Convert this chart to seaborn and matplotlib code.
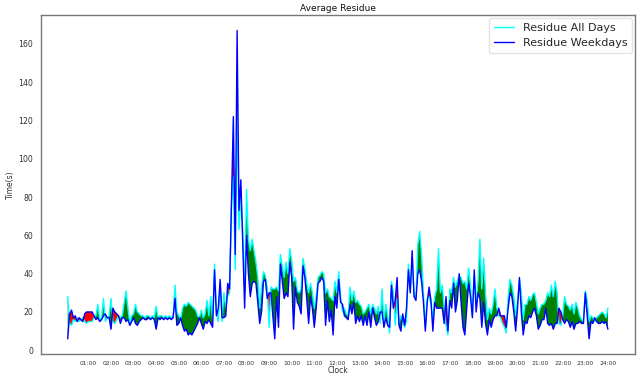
import numpy as np
import pandas as pd
import seaborn as sns
import matplotlib.pyplot as plt

# 5-minute slots from 00:05 to 24:00, one row per hour
residue_all_days = [
    28, 14, 13, 16, 15, 17, 15, 16, 17, 15, 14, 15,
    15, 15, 17, 18, 24, 16, 17, 27, 15, 17, 18, 27,
    15, 14, 16, 18, 17, 18, 25, 31, 22, 14, 18, 19,
    24, 20, 19, 18, 18, 17, 18, 18, 17, 18, 17, 23,
    17, 18, 18, 17, 18, 17, 18, 17, 18, 34, 20, 18,
    16, 22, 24, 23, 25, 24, 23, 22, 21, 18, 17, 21,
    17, 19, 26, 18, 28, 16, 45, 20, 15, 35, 15, 30,
    22, 28, 30, 75, 91, 42, 125, 63, 80, 62, 30, 84,
    58, 52, 58, 52, 46, 38, 22, 33, 41, 39, 33, 12,
    33, 32, 32, 33, 31, 50, 44, 38, 46, 40, 53, 47,
    36, 38, 31, 30, 32, 48, 43, 35, 30, 35, 30, 22,
    28, 38, 39, 41, 40, 30, 32, 28, 27, 26, 36, 30,
    41, 28, 20, 22, 19, 18, 33, 26, 31, 25, 26, 24,
    23, 19, 20, 22, 24, 19, 24, 22, 19, 23, 14, 32,
    15, 24, 18, 9, 36, 30, 13, 27, 14, 18, 15, 12,
    15, 45, 32, 46, 30, 27, 55, 62, 50, 30, 12, 27,
    28, 24, 16, 28, 32, 53, 30, 34, 22, 13, 8, 32,
    30, 38, 33, 36, 39, 38, 35, 36, 32, 43, 34, 18,
    39, 25, 36, 58, 32, 48, 30, 16, 22, 19, 24, 32,
    22, 18, 17, 14, 12, 9, 28, 37, 34, 28, 18, 26,
    37, 30, 16, 24, 24, 28, 26, 29, 30, 25, 19, 22,
    24, 24, 26, 30, 28, 34, 28, 36, 30, 14, 13, 18,
    28, 24, 23, 21, 24, 19, 25, 22, 18, 16, 15, 31,
    26, 15, 18, 17, 15, 17, 18, 19, 20, 19, 17, 22,
]

residue_weekdays = [
    6, 19, 21, 17, 18, 15, 17, 16, 15, 19, 20, 20,
    20, 20, 18, 16, 17, 15, 16, 18, 19, 17, 17, 11,
    22, 20, 19, 18, 14, 17, 17, 15, 16, 13, 15, 17,
    14, 13, 15, 16, 17, 16, 16, 17, 16, 17, 16, 11,
    17, 16, 17, 16, 17, 16, 17, 16, 17, 27, 13, 14,
    17, 13, 10, 11, 8, 9, 8, 10, 12, 14, 17, 14,
    11, 15, 14, 16, 14, 12, 42, 18, 22, 37, 17, 17,
    18, 35, 32, 78, 122, 50, 167, 73, 89, 55, 22, 60,
    40, 28, 35, 36, 35, 25, 14, 20, 36, 37, 27, 30,
    30, 18, 6, 28, 12, 45, 36, 27, 30, 28, 46, 38,
    11, 33, 25, 23, 19, 44, 38, 27, 14, 28, 22, 12,
    22, 35, 36, 38, 36, 13, 26, 15, 21, 8, 28, 22,
    37, 25, 24, 18, 17, 16, 24, 19, 25, 14, 18, 15,
    18, 13, 18, 13, 20, 12, 22, 17, 13, 15, 20, 20,
    12, 17, 13, 12, 34, 22, 26, 38, 13, 10, 19, 13,
    22, 42, 30, 52, 28, 26, 40, 42, 36, 25, 10, 25,
    33, 26, 10, 25, 22, 22, 22, 22, 14, 28, 10, 26,
    22, 35, 20, 26, 40, 25, 12, 8, 22, 35, 28, 17,
    42, 20, 30, 27, 12, 25, 14, 8, 16, 12, 16, 18,
    18, 22, 18, 18, 18, 12, 22, 30, 28, 20, 10, 22,
    38, 20, 8, 15, 14, 18, 17, 20, 22, 18, 11, 13,
    16, 16, 22, 14, 13, 14, 11, 14, 14, 22, 20, 16,
    14, 16, 15, 12, 15, 11, 14, 14, 15, 14, 14, 30,
    18, 6, 15, 14, 17, 15, 14, 14, 15, 14, 15, 11,
]

hour_labels = ["%02d:00" % h for h in range(1, 25)]

minutes = np.arange(5, 1441, 5)
df = pd.DataFrame({"Clock": minutes,
                   "all": residue_all_days,
                   "week": residue_weekdays})

sns.set_style("white")
plt.rcParams['font.family'] = ['DejaVu Sans']

fig = plt.figure(figsize=(6.41, 3.76), dpi=100)
ax = fig.add_axes([0.0635, 0.058, 0.927, 0.902])

a = df["all"].values
w = df["week"].values

# fill the gap between the two curves, then draw both lines over it
ax.fill_between(df["Clock"], a, w, where=a >= w, interpolate=True,
                color="green", lw=0, zorder=1)
ax.fill_between(df["Clock"], a, w, where=w > a, interpolate=True,
                color="red", lw=0, zorder=1)
sns.lineplot(data=df, x="Clock", y="all", color="cyan", lw=1.0,
             label="Residue All Days", ax=ax, zorder=2)
sns.lineplot(data=df, x="Clock", y="week", color="blue", lw=1.0,
             label="Residue Weekdays", ax=ax, zorder=3)

ax.set_xticks(np.arange(60, 1441, 60))
ax.set_xticklabels(hour_labels)
ax.tick_params(axis="x", labelsize=4.3, colors="#555555", length=3, pad=2)
ax.tick_params(axis="y", labelsize=5.6, colors="#555555", length=3, pad=2.5)
for lab in ax.get_xticklabels() + ax.get_yticklabels():
    lab.set_color("#333333")
for sp in ax.spines.values():
    sp.set_color("#777777")
    sp.set_linewidth(1)

ax.set_xlabel("Clock", fontsize=5.5, color="#333333", labelpad=0)
ax.set_ylabel("Time(s)", fontsize=5.5, color="#333333", labelpad=2)
ax.set_title("Average Residue", fontsize=6.5, color="#111111", pad=3)
ax.margins(x=0.05, y=0.05)

ax.legend(loc="upper right", fontsize=8, handlelength=1.8,
          borderaxespad=0.3, framealpha=0.8, edgecolor="#dddddd")

fig.savefig("out.png", dpi=100)
